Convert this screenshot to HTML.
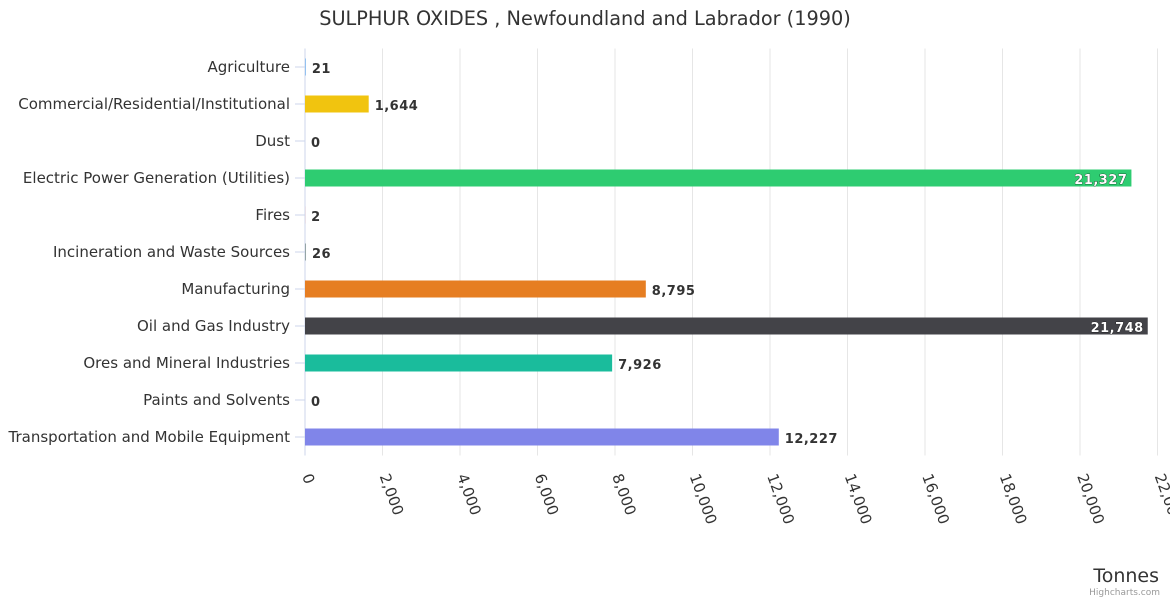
<!DOCTYPE html>
<html><head><meta charset="utf-8"><style>
body{margin:0;background:#fff;}
svg{font-family:"DejaVu Sans","Liberation Sans",sans-serif;}
</style></head><body>
<svg id="chart" width="1170" height="600" xmlns="http://www.w3.org/2000/svg">
<text x="585" y="25" text-anchor="middle" font-size="19.3" fill="#333">SULPHUR OXIDES , Newfoundland and Labrador (1990)</text>
<g id="grid"></g><g id="bars"></g><g id="labels"></g>
<text x="1159" y="582" text-anchor="end" font-size="19" fill="#333">Tonnes</text>
<text x="1160" y="595" text-anchor="end" font-size="9" fill="#999">Highcharts.com</text>
</svg>
<script>
const categories=["Agriculture","Commercial/Residential/Institutional","Dust","Electric Power Generation (Utilities)","Fires","Incineration and Waste Sources","Manufacturing","Oil and Gas Industry","Ores and Mineral Industries","Paints and Solvents","Transportation and Mobile Equipment"];
const values=[21,1644,0,21327,2,26,8795,21748,7926,0,12227];
const colors=["#7cb5ec","#f1c40f","#2c3e50","#2ecc71","#e74c3c","#95a5a6","#e67e22","#434348","#1abc9c","#9b59b6","#8085e9"];
const ticks=[0,2000,4000,6000,8000,10000,12000,14000,16000,18000,20000,22000];
const NS="http://www.w3.org/2000/svg";
const x0=305,xMax=22000,pw=1157.5-305,plotTop=48.5,band=37;
const xs=v=>x0+v/xMax*pw;
const ys=i=>plotTop+band*i+band/2;
const fmt=v=>v.toLocaleString("en-US");
function mk(t,a,p){const e=document.createElementNS(NS,t);for(const k in a)e.setAttribute(k,a[k]);p.appendChild(e);return e;}
const grid=document.getElementById("grid"),bars=document.getElementById("bars"),labels=document.getElementById("labels");
ticks.forEach(t=>{
 const x=xs(t);
 const g=mk("line",{x1:x,x2:x,y1:plotTop,y2:plotTop+band*categories.length,stroke:t?"#e6e6e6":"#ccd6eb","stroke-width":1},grid);
 
 
 const tx=mk("text",{x:x-3,y:476,"font-size":15,fill:"#333",transform:`rotate(70 ${x-3} 476)`},labels);
 tx.textContent=fmt(t);
 
 
});
mk("line",{x1:x0,x2:x0,y1:plotTop,y2:plotTop+band*categories.length,stroke:"#ccd6eb"},grid);
categories.forEach((c,i)=>{
 const y=ys(i);
 const tk=mk("line",{x1:x0-10,x2:x0,y1:y,y2:y,stroke:"#ccd6eb"},grid);
 
 
 const lt=mk("text",{x:290,y:y+5,"text-anchor":"end","font-size":15,fill:"#333"},labels);
 lt.textContent=c;
 
 
 const v=values[i],w=xs(v)-x0;
 const r=mk("rect",{x:x0,y:y-8.5,width:Math.max(w,0),height:17,fill:colors[i]},bars);
 
 
 const inside=w>800;
 const vt=mk("text",{x:inside?xs(v)-4:xs(v)+6,y:y+6,"text-anchor":inside?"end":"start","font-size":13,"font-weight":"bold",fill:inside?"#fff":"#333",stroke:inside?"#000":"none","stroke-width":inside?0.6:0,"paint-order":"stroke","letter-spacing":"0.5"},labels);
 vt.textContent=fmt(v);
 
 
});
</script>
</body></html>
